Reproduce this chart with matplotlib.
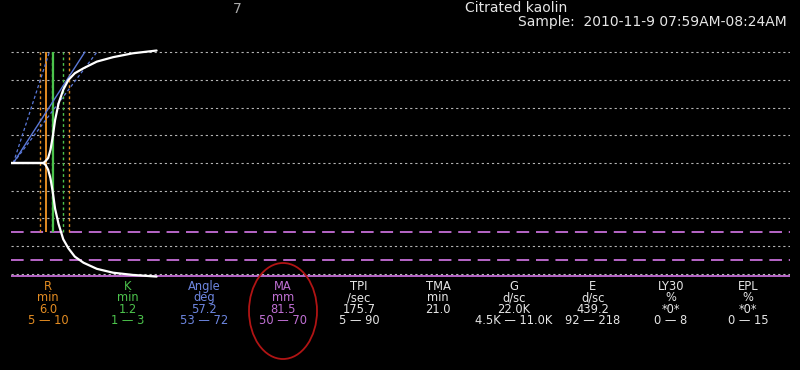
import numpy as np
import matplotlib
matplotlib.use("Agg")
import matplotlib.pyplot as plt
from matplotlib.patches import Ellipse

# ---------------- data ----------------
# TEG trace (half amplitude in mm), time in minutes
curve_t = [0, 5.6, 6.0, 6.4, 6.8, 7.2, 7.6, 8.2, 9.0, 9.9, 11.0, 12.5, 14.8, 17.6, 21.0, 25.1]
curve_upper = [0, 0, 0.8, 1.8, 4.7, 9.5, 15.5, 21.5, 26.4, 30.0, 32.4, 34.2, 36.6, 38.2, 39.6, 40.6]
curve_lower = [0, 0, -0.8, -2.4, -5.5, -10.5, -16.5, -22.0, -27.5, -30.8, -33.8, -36.0, -38.2, -39.6, -40.4, -41.0]

R_value = 6.0
R_range = [5, 10]
K_value = 1.2
K_range = [1, 3]
angle_value = 57.2
angle_range = [53, 72]
MA_value = 81.5
MA_range = [50, 70]
angle_start = 0.4

grid_levels = [-40, -30, -20, -10, 0, 10, 20, 30, 40]

param_names = ["R", "K", "Angle", "MA", "TPI", "TMA", "G", "E", "LY30", "EPL"]
param_units = ["min", "min", "deg", "mm", "/sec", "min", "d/sc", "d/sc", "%", "%"]
param_values = ["6.0", "1.2", "57.2", "81.5", "175.7", "21.0", "22.0K", "439.2", "*0*", "*0*"]
param_ranges = ["5 \u2014 10", "1 \u2014 3", "53 \u2014 72", "50 \u2014 70", "5 \u2014 90", "",
                "4.5K \u2014 11.0K", "92 \u2014 218", "0 \u2014 8", "0 \u2014 15"]

title_num = "7"
title_sample = "Citrated kaolin"
title_time = "Sample:  2010-11-9 07:59AM-08:24AM"

# ---------------- style ----------------
ORANGE = "#e38c22"
GREEN = "#4cc34c"
BLUE = "#5a78d8"
PURPLE = "#b866c8"
GRAY = "#b4b4b4"
TXT = "#e6e6e6"
param_colors = [ORANGE, GREEN, "#6d86e0", "#c070d4", TXT, TXT, TXT, TXT, TXT, TXT]
col_x = [48, 128, 204, 283, 359, 438, 514, 593, 671, 748]

W, H = 800, 370
fig = plt.figure(figsize=(W / 100, H / 100), dpi=100, facecolor="black")
ax = fig.add_axes([11 / W, 1 - 286 / H, 779 / W, 246 / H])
ax.set_facecolor("black")
ax.set_xlim(0, 134.3)
ax.set_ylim(-44.4, 44.4)
ax.axis("off")

# dotted grid
for g in grid_levels:
    ax.axhline(g, color=GRAY, lw=0.8, ls=(0, (2, 2.6)), zorder=1)

# MA range (purple dashed) and MA (solid purple bottom)
for m in MA_range:
    ax.axhline(-m / 2, color=PURPLE, lw=1.4, ls=(0, (6.5, 3.5)), zorder=2)
ax.axhline(-MA_value / 2, color=PURPLE, lw=1.4, zorder=2)

# vertical markers
vtop = max(grid_levels)
vbot = -MA_range[0] / 2
ax.vlines(R_range, vbot, vtop, colors=ORANGE, lw=1.0, linestyles=(0, (2, 2)), zorder=3)
ax.vlines([R_value], vbot, vtop, colors=ORANGE, lw=1.4, zorder=3)
ax.vlines([R_value + k for k in K_range], vbot, vtop, colors=GREEN, lw=1.0,
          linestyles=(0, (2, 2)), zorder=3)
ax.vlines([R_value + K_value], vbot, vtop, colors=GREEN, lw=1.6, zorder=3)

# angle lines
p0 = ax.transData.transform((0, 0))
px_t = ax.transData.transform((1, 0))[0] - p0[0]
px_a = ax.transData.transform((0, 1))[1] - p0[1]
def angle_line(deg, **kw):
    dx = vtop * px_a / px_t / np.tan(np.radians(deg))
    ax.plot([angle_start, angle_start + dx], [0, vtop], color=BLUE, zorder=4, **kw)
angle_line(angle_value, lw=1.0)
for a in angle_range:
    angle_line(a, lw=0.9, ls=(0, (2.5, 2)))

# trace
ax.plot(curve_t, curve_upper, color="white", lw=1.6, zorder=5, solid_capstyle="round")
ax.plot(curve_t, curve_lower, color="white", lw=1.6, zorder=5, solid_capstyle="round")

# titles
fig.text(237 / W, 1 - 9 / H, title_num, color="#a8a8a8", fontsize=10, ha="center", va="center")
fig.text(465 / W, 1 - 8 / H, title_sample, color=TXT, fontsize=10, ha="left", va="center")
fig.text(787 / W, 1 - 22 / H, title_time, color=TXT, fontsize=10, ha="right", va="center")

# parameter table: one multi-line text per column
for i in range(len(param_names)):
    block = "\n".join([param_names[i], param_units[i], param_values[i], param_ranges[i]])
    fig.text(col_x[i] / W, 1 - 280 / H, block, color=param_colors[i], fontsize=8.3,
             ha="center", va="top", multialignment="center", linespacing=0.83)

# red ellipse around MA
fig.patches.append(Ellipse((283 / W, 1 - 311 / H), 68 / W, 96 / H, transform=fig.transFigure,
                           fill=False, edgecolor="#b01414", lw=1.3))

fig.savefig("out.png", dpi=100, facecolor="black")
